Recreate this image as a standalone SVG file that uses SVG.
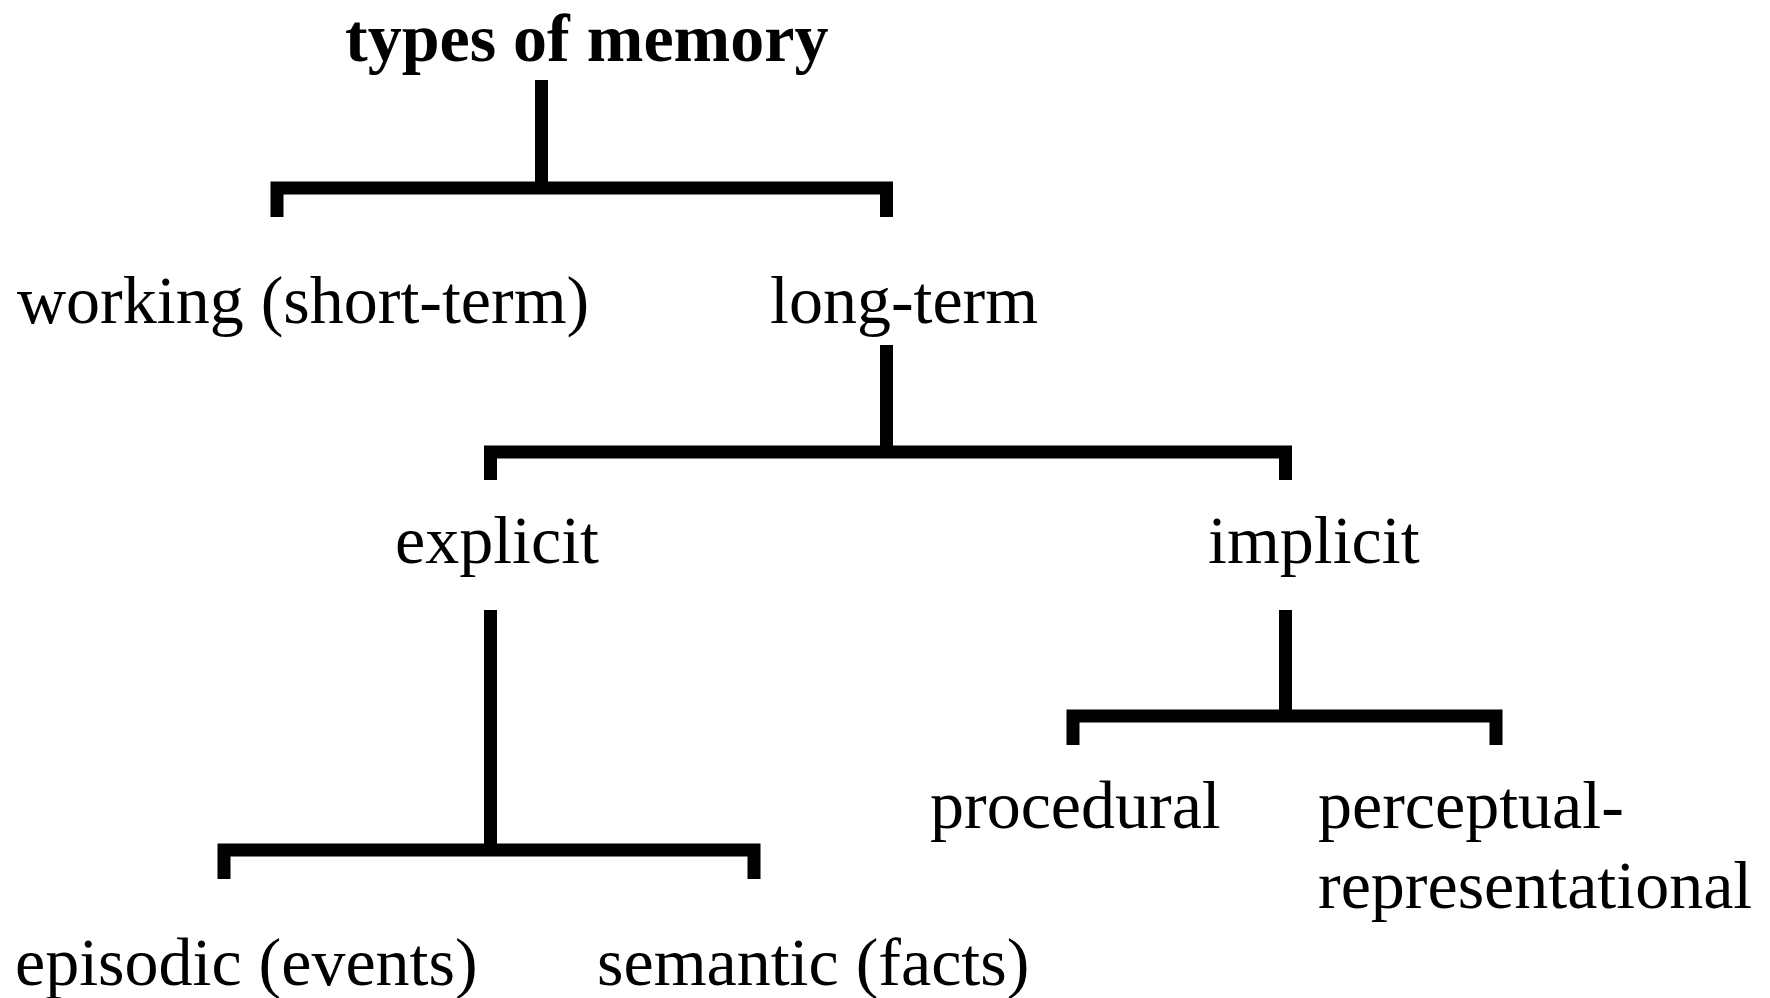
<svg xmlns="http://www.w3.org/2000/svg" width="1770" height="998" viewBox="0 0 1770 998">
<style>
.t{font-family:"Liberation Serif","Times New Roman",serif;font-size:68px;fill:#000}
.b{font-weight:bold}
.c{fill:none;stroke:#000;stroke-width:13;stroke-linecap:butt;stroke-linejoin:miter}
</style>
<rect width="1770" height="998" fill="#fff"/>
<g id="connectors">
<path class="c" d="M541.5 80 V188"/>
<path class="c" d="M277 217 V188 H886.5 V217"/>
<path class="c" d="M886.5 345 V452"/>
<path class="c" d="M490.5 480 V452 H1285.5 V480"/>
<path class="c" d="M490.5 610 V850"/>
<path class="c" d="M224 879 V850 H754 V879"/>
<path class="c" d="M1285.5 610 V716"/>
<path class="c" d="M1073 745 V716 H1496 V745"/>
</g>
<g id="n-types"><text class="t b" x="345" y="61">types of memory</text></g>
<g id="n-working"><text class="t" x="17" y="323">working (short-term)</text></g>
<g id="n-longterm"><text class="t" x="770" y="323">long-term</text></g>
<g id="n-explicit"><text class="t" x="395" y="563">explicit</text></g>
<g id="n-implicit"><text class="t" x="1208" y="563">implicit</text></g>
<g id="n-procedural"><text class="t" x="930" y="828">procedural</text></g>
<g id="n-perceptual"><text class="t" x="1318" y="828">perceptual-</text><text class="t" x="1318" y="908">representational</text></g>
<g id="n-episodic"><text class="t" x="15" y="985">episodic (events)</text></g>
<g id="n-semantic"><text class="t" x="597" y="985">semantic (facts)</text></g>
</svg>
